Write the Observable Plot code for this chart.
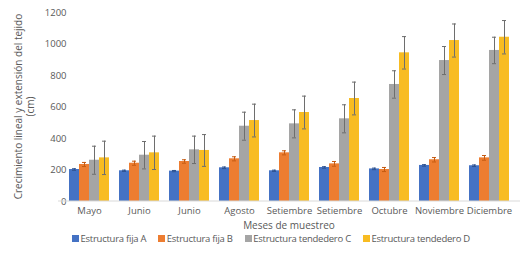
<!DOCTYPE html>
<html>
<head>
<meta charset="utf-8">
<script src="https://cdn.jsdelivr.net/npm/d3@7"></script>
<script src="https://cdn.jsdelivr.net/npm/@observablehq/plot@0.6"></script>
<style>
  html, body { margin: 0; padding: 0; background: #fff; }
  body { width: 528px; height: 253px; overflow: hidden; font-family: "Open Sans", sans-serif; }
  #legend { display: flex; justify-content: center; align-items: center; font-size: 9.5px; color: #595959; height: 14px; margin-top: -1px; padding-left: 14px; letter-spacing: -0.25px; }
  #legend .item { display: flex; align-items: center; margin: 0 6px; }
  #legend .sw { width: 7px; height: 7px; margin-right: 1.5px; }
</style>
</head>
<body>
<div id="chart"></div>
<div id="legend"></div>
<script>
const months = ["Mayo", "Junio", "Junio", "Agosto", "Setiembre", "Setiembre", "Octubre", "Noviembre", "Diciembre"];
const series = ["Estructura fija A", "Estructura fija B", "Estructura tendedero C", "Estructura tendedero D"];
const colors = ["#4472C4", "#ED7D31", "#A5A5A5", "#F8BC22"];
const errColors = ["#2F528F", "#C55A11", "#6E6E6E", "#6E6E6E"];
const valuesA = [203, 195, 193, 214, 195, 216, 207, 229, 227];
const valuesB = [235, 243, 254, 271, 309, 239, 203, 265, 277];
const valuesC = [262, 294, 328, 478, 493, 525, 743, 895, 959];
const valuesD = [277, 309, 324, 514, 565, 654, 944, 1022, 1043];
const errA = [5, 4, 4, 5, 4, 5, 5, 5, 5];
const errB = [13, 13, 11, 13, 13, 15, 13, 14, 15];
const errC = [89, 87, 87, 89, 89, 89, 87, 89, 84];
const errD = [106, 106, 101, 104, 104, 104, 103, 105, 106];
const yTicks = [0, 200, 400, 600, 800, 1000, 1200];

const allValues = [valuesA, valuesB, valuesC, valuesD];
const allErr = [errA, errB, errC, errD];
const rows = [];
months.forEach((m, i) => {
  series.forEach((s, j) => {
    rows.push({key: i, series: s, value: allValues[j][i], err: allErr[j][i]});
  });
});

const font = '"Open Sans", sans-serif';
const W = 528, H = 232, ML = 58, MR = 8, MT = 12, MB = 31;

const plot = Plot.plot({
  width: W,
  height: H,
  marginLeft: ML,
  marginRight: MR,
  marginTop: MT,
  marginBottom: MB,
  style: {fontFamily: font, fontSize: "9.5px", color: "#595959", background: "#fff"},
  facet: {data: rows, x: "key"},
  fx: {domain: d3.range(months.length), tickFormat: i => months[i], label: null, tickSize: 0, tickPadding: 6, paddingInner: 0.2, paddingOuter: 0.157},
  x: {domain: series, axis: null, paddingInner: 0.04, paddingOuter: 0},
  y: {domain: [0, 1200], ticks: yTicks, tickFormat: d => String(d), tickSize: 0, tickPadding: 3, label: null},
  color: {domain: series, range: colors},
  marks: [
    Plot.barY(rows, {x: "series", y: "value", fill: "series"}),
    Plot.ruleX(rows, {x: "series", y1: d => d.value - d.err, y2: d => d.value + d.err, stroke: d => errColors[series.indexOf(d.series)], strokeWidth: 1}),
    Plot.tickY(rows, {x: "series", y: d => d.value + d.err, stroke: d => errColors[series.indexOf(d.series)], strokeWidth: 1, insetLeft: 3, insetRight: 3}),
    Plot.tickY(rows, {x: "series", y: d => d.value - d.err, stroke: d => errColors[series.indexOf(d.series)], strokeWidth: 1, insetLeft: 3, insetRight: 3})
  ]
});

const svg = d3.select(plot);
const y0 = plot.scale("y").apply(0);
svg.append("line")
  .attr("x1", ML).attr("x2", W - MR).attr("y1", y0).attr("y2", y0)
  .attr("stroke", "#D9D9D9").attr("stroke-width", 1);
const yMid = (MT + (H - MB)) / 2;
svg.append("text")
  .attr("transform", `translate(18,${yMid}) rotate(-90)`)
  .attr("text-anchor", "middle").attr("dominant-baseline", "central")
  .attr("fill", "#595959").style("font-size", "10px").style("font-family", font)
  .text("Crecimiento lineal y extensión del tejido");
svg.append("text")
  .attr("transform", `translate(30,${yMid}) rotate(-90)`)
  .attr("text-anchor", "middle").attr("dominant-baseline", "central")
  .attr("fill", "#595959").style("font-size", "10px").style("font-family", font)
  .text("(cm)");
svg.append("text")
  .attr("x", (ML + W - MR) / 2).attr("y", H - 7)
  .attr("text-anchor", "middle").attr("dominant-baseline", "central")
  .attr("fill", "#595959").style("font-size", "10px").style("font-family", font)
  .text("Meses de muestreo");

document.getElementById("chart").appendChild(plot);

const legend = d3.select("#legend");
series.forEach((s, j) => {
  const item = legend.append("div").attr("class", "item");
  item.append("div").attr("class", "sw").style("background", colors[j]);
  item.append("span").text(s);
});
</script>
</body>
</html>
